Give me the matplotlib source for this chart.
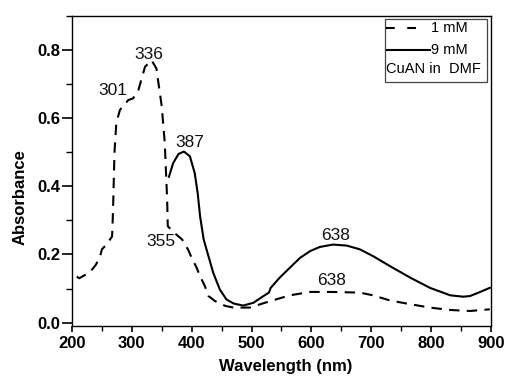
import matplotlib
matplotlib.use("Agg")
import matplotlib.pyplot as plt
from matplotlib.patches import Rectangle
from matplotlib.lines import Line2D
from matplotlib.ticker import MultipleLocator

plt.rcParams['font.family'] = ['Liberation Sans', 'DejaVu Sans']

# 1 mM (dashed)
wl_1mM = [208, 212, 222, 230, 240, 247, 250, 258, 267, 268, 269, 271, 274, 280, 294, 302, 311, 322, 333,
          341, 350, 355, 359, 360, 370, 384, 394, 400, 408, 414, 422, 428, 439, 456, 470, 497, 531,
          564, 598, 632, 681, 703, 731, 765, 798, 832, 865, 898]
abs_1mM = [0.135, 0.13, 0.14, 0.148, 0.17, 0.195, 0.215, 0.23, 0.253, 0.30, 0.36, 0.50, 0.585, 0.624,
           0.653, 0.658, 0.683, 0.751, 0.77, 0.746, 0.634, 0.527, 0.36, 0.283, 0.265, 0.244, 0.214,
           0.19, 0.162, 0.136, 0.107, 0.078, 0.063, 0.049, 0.044, 0.044, 0.063, 0.08, 0.09, 0.09,
           0.088, 0.08, 0.065, 0.054, 0.044, 0.037, 0.034, 0.039]

# 9 mM (solid)
wl_9mM = [362, 369, 378, 387, 397, 405, 410, 414, 420, 428, 436, 447, 458, 470, 486, 503, 520, 529,
          532, 547, 564, 581, 598, 614, 636, 659, 681, 703, 731, 765, 798, 832, 854, 865, 882, 898]
abs_9mM = [0.428, 0.468, 0.495, 0.502, 0.488, 0.439, 0.38, 0.312, 0.244, 0.195, 0.146, 0.097, 0.068,
           0.056, 0.05, 0.058, 0.078, 0.088, 0.102, 0.132, 0.161, 0.19, 0.21, 0.222, 0.229, 0.226,
           0.215, 0.195, 0.166, 0.132, 0.102, 0.08, 0.076, 0.078, 0.09, 0.102]

peak_labels = ["301", "336", "355", "387", "638", "638"]
peak_x = [269, 329, 349, 396, 641, 634]
peak_y = [0.68, 0.787, 0.239, 0.528, 0.256, 0.125]

fig = plt.figure(figsize=(5.07, 3.77), dpi=100)
ax = fig.add_axes([0.142, 0.1353, 0.8264, 0.8223])

ax.plot(wl_1mM, abs_1mM, color='black', lw=1.5, linestyle=(0, (5, 3.5)))
ax.plot(wl_9mM, abs_9mM, color='black', lw=1.5, linestyle='-')

for t, x, y in zip(peak_labels, peak_x, peak_y):
    ax.text(x, y, t, ha='center', va='center', fontsize=12.5, color='#111111')

ax.set_xlim(200, 900)
ax.set_ylim(-0.01, 0.9)
ax.xaxis.set_major_locator(MultipleLocator(100))
ax.xaxis.set_minor_locator(MultipleLocator(50))
ax.yaxis.set_minor_locator(MultipleLocator(0.1))
ax.set_yticks([0.0, 0.2, 0.4, 0.6, 0.8])
ax.set_yticklabels(["0.0", "0.2", "0.4", "0.6", "0.8"])
ax.tick_params(axis='y', which='major', direction='out', length=7, width=1.2, labelsize=12, pad=1.5)
ax.tick_params(axis='y', which='minor', direction='out', length=4, width=1.0)
ax.tick_params(axis='x', which='major', direction='out', length=4.5, width=1.2, labelsize=12, pad=3)
ax.tick_params(axis='x', which='minor', direction='out', length=3.5, width=1.0)
for lab in ax.get_xticklabels() + ax.get_yticklabels():
    lab.set_fontweight('bold')
for s in ax.spines.values():
    s.set_linewidth(1.0)

ax.set_xlabel("Wavelength (nm)", fontsize=12, fontweight='bold')
ax.set_ylabel("Absorbance", fontsize=12, fontweight='bold')
ax.xaxis.set_label_coords(0.51, -0.108)
ax.yaxis.set_label_coords(-0.105, 0.415)

# legend box (drawn manually)
x0, x1 = (385.3 - 72) / 419, (486.7 - 72) / 419
y0, y1 = (326 - 81.7) / 310, (326 - 19) / 310
ax.add_patch(Rectangle((x0, y0), x1 - x0, y1 - y0, transform=ax.transAxes,
                       fill=False, edgecolor='#444444', lw=0.9, zorder=5))
h = y1 - y0
ax.add_line(Line2D([x0 + 0.002, 0.823], [y1 - h * 0.144] * 2, transform=ax.transAxes,
                   color='black', lw=1.5, linestyle=(0, (4.2, 6.0))))
ax.add_line(Line2D([x0 + 0.002, 0.854], [y1 - h * 0.49] * 2, transform=ax.transAxes,
                   color='black', lw=1.5))
ax.text(0.856, y1 - h * 0.144, "1 mM", transform=ax.transAxes, fontsize=10.5, va='center', ha='left')
ax.text(0.857, y1 - h * 0.49, "9 mM", transform=ax.transAxes, fontsize=10.5, va='center', ha='left')
ax.text(x0 + 0.001, y1 - h * 0.80, "CuAN in  DMF", transform=ax.transAxes, fontsize=10.5,
        va='center', ha='left')

fig.savefig("out.png", dpi=100)
